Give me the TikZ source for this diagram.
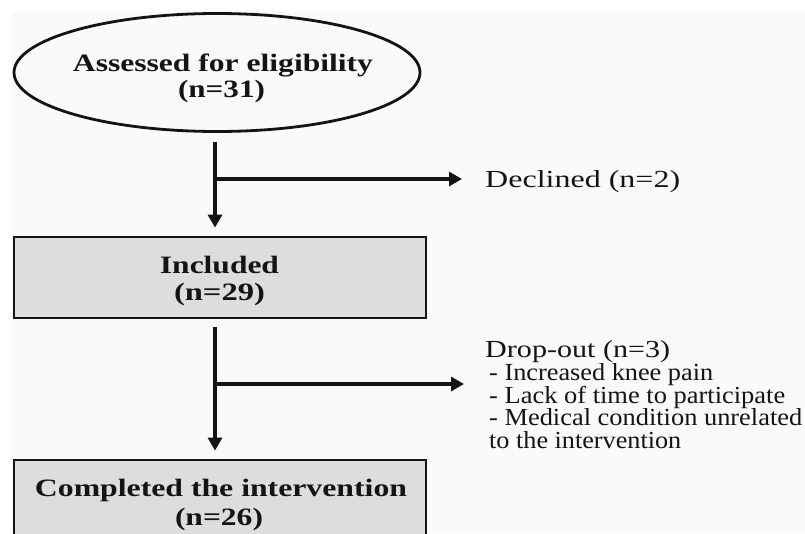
\documentclass[tikz,border=0pt]{standalone}
\usepackage{graphicx}
\usepackage{fontspec}
\setmainfont{Liberation Serif}
\usetikzlibrary{arrows.meta,shapes.geometric}
\newcommand{\sline}[2]{\resizebox{#1pt}{\height}{#2}}
\definecolor{linec}{RGB}{20,20,20}
\definecolor{boxfill}{RGB}{221,221,221}
\definecolor{bgc}{RGB}{250,250,250}
\begin{document}
\begin{tikzpicture}[x=1pt,y=-1pt,
  shapeline/.style={draw=linec, line width=2.8pt},
  boxnode/.style={shapeline, fill=boxfill, rectangle, inner sep=0pt, minimum width=412pt},
  btxt/.style={inner sep=0pt, anchor=base, text=linec, font=\fontsize{25}{25}\selectfont\bfseries},
  ltxt/.style={inner sep=0pt, anchor=base west, text=linec, font=\fontsize{24.5}{22.25}\selectfont},
  conn/.style={draw=linec, line width=4pt, -{Triangle[length=13pt,width=14pt]}}]
\useasboundingbox (0,0) rectangle (805,533);
\clip (0,0) rectangle (805,533);
\fill[white] (0,0) rectangle (805,533);
\fill[bgc] (12,12) rectangle (805,533);
% shapes
\node[shapeline, ellipse, inner sep=0pt, minimum width=406pt, minimum height=118pt] (assess) at (217,72.5) {};
\node[boxnode, minimum height=81pt] (incl) at (220,277.5) {};
\node[boxnode, minimum height=90pt] (comp) at (220,505) {};
% texts
\node[btxt] (t1) at (223,71.5) {\sline{300}{Assessed for eligibility}};
\node[btxt] (t2) at (221.5,97) {\sline{87}{(n=31)}};
\node[btxt] (t3) at (219.5,273) {\sline{119}{Included}};
\node[btxt] (t4) at (219.5,300) {\sline{91}{(n=29)}};
\node[btxt] (t5) at (221,496) {\sline{372}{Completed the intervention}};
\node[btxt] (t6) at (219,525) {\sline{88}{(n=26)}};
\node[ltxt] (dec) at (485,187) {\sline{195}{Declined (n=2)}};
\node[ltxt, align=left] (drop) at (485,448) {\sline{185}{Drop-out (n=3)}\\
  \hspace*{4pt}\sline{224}{- Increased knee pain}\\
  \hspace*{4pt}\sline{296}{- Lack of time to participate}\\
  \hspace*{4pt}\sline{313}{- Medical condition unrelated}\\
  \hspace*{4pt}\sline{192}{to the intervention}};
% connectors
\coordinate (j1) at (215,179);
\coordinate (j2) at (215,384);
\draw[conn, shorten <=9pt, shorten >=8pt] (assess.south -| j1) -- (incl.north -| j1);
\draw[conn, shorten >=23pt] (j1) -- (j1 -| dec.west);
\draw[conn, shorten <=8pt, shorten >=8pt] (incl.south -| j2) -- (comp.north -| j2);
\draw[conn, shorten >=21pt] (j2) -- (j2 -| drop.west);
\end{tikzpicture}
\end{document}
